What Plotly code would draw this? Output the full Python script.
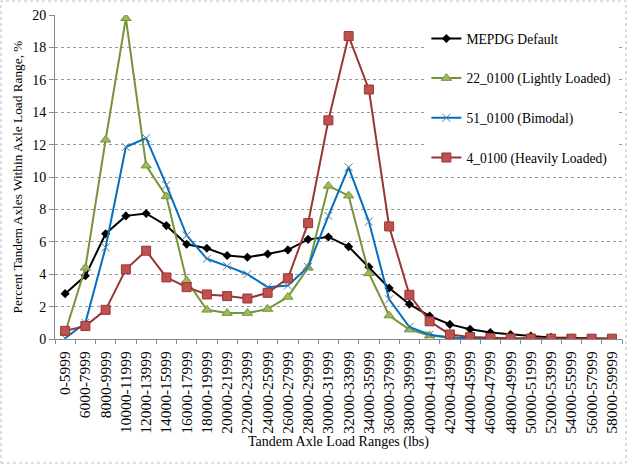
import plotly.graph_objects as go

categories = ["0-5999"] + [f"{a}-{a+1999}" for a in range(6000, 60000, 2000)]

mepdg = [2.8, 3.9, 6.5, 7.6, 7.75, 7.0, 5.85, 5.6, 5.15, 5.05, 5.25, 5.5, 6.15, 6.3,
         5.7, 4.45, 3.15, 2.15, 1.42, 0.9, 0.6, 0.4, 0.28, 0.18, 0.1, 0.06, 0.03, 0.02]
light = [0.4, 4.4, 12.3, 19.8, 10.7, 8.8, 3.6, 1.8, 1.6, 1.6, 1.85, 2.6, 4.4, 9.45,
         8.85, 4.05, 1.45, 0.58, 0.22, 0.1, 0.05, 0.03, 0.02, 0.01, 0.01, 0.0, 0.0, 0.0]
bimodal = [0.05, 1.0, 5.65, 11.85, 12.4, 9.5, 6.4, 4.95, 4.5, 4.0, 3.2, 3.3, 4.45, 7.6,
           10.6, 7.25, 2.45, 0.74, 0.26, 0.1, 0.05, 0.03, 0.02, 0.01, 0.01, 0.0, 0.0, 0.0]
heavy = [0.5, 0.8, 1.8, 4.3, 5.45, 3.8, 3.2, 2.75, 2.65, 2.5, 2.85, 3.75, 7.15, 13.5,
         18.7, 15.4, 6.95, 2.73, 1.09, 0.28, 0.12, 0.06, 0.04, 0.03, 0.02, 0.02, 0.02, 0.02]

fnt = "Liberation Serif"

fig = go.Figure()
fig.add_trace(go.Scatter(x=categories, y=mepdg, name="MEPDG Default", legendgroup="a",
                         mode="lines+markers", line=dict(color="black", width=2),
                         marker=dict(symbol="diamond", size=7, color="black")))
fig.add_trace(go.Scatter(x=categories, y=light, name="22_0100 (Lightly Loaded)", legendgroup="b",
                         mode="lines+markers", line=dict(color="#77933C", width=2),
                         marker=dict(symbol="triangle-up", size=9, color="#9BBB59",
                                     line=dict(color="#77933C", width=1))))
fig.add_trace(go.Scatter(x=categories, y=bimodal, name="51_0100 (Bimodal)", legendgroup="c",
                         mode="lines+markers", line=dict(color="#0070C0", width=2),
                         marker=dict(symbol="x-thin", size=8, color="#4F6F8F",
                                     line=dict(color="#5A7A9A", width=1))))
fig.add_trace(go.Scatter(x=categories, y=heavy, name="4_0100 (Heavily Loaded)", legendgroup="d",
                         mode="lines+markers", line=dict(color="#953735", width=2),
                         marker=dict(symbol="square", size=9, color="#C0504D",
                                     line=dict(color="#953735", width=1))))

fig.update_layout(
    width=627, height=464,
    margin=dict(l=55, r=5, t=15, b=125),
    paper_bgcolor="white", plot_bgcolor="white",
    font=dict(family=fnt, size=14, color="black"),
    showlegend=True,
    legend=dict(x=0.655, y=0.975, xanchor="left", yanchor="top",
                bgcolor="white", font=dict(family=fnt, size=13.6),
                tracegroupgap=19, itemwidth=30),
    xaxis=dict(type="category", tickangle=-90, tickfont=dict(size=15.5, family=fnt),
               showgrid=False, showline=True, linecolor="#888888", linewidth=1,
               ticks="outside", ticklen=4, tickcolor="#888888", tickson="boundaries",
               ticklabelstandoff=5,
               range=[-0.5, 27.5],
               title=dict(text="Tandem Axle Load Ranges (lbs)", font=dict(size=14, family=fnt), standoff=2)),
    yaxis=dict(range=[0, 20], tickvals=list(range(0, 21, 2)), tickfont=dict(size=14, family=fnt),
               showgrid=True, gridcolor="#999999", griddash="dot", gridwidth=1,
               showline=True, linecolor="#888888", linewidth=1,
               ticks="outside", ticklen=5, tickcolor="#888888", zeroline=False,
               title=dict(text="Percent Tandem Axles Within Axle Load Range, %",
                          font=dict(size=13.3, family=fnt), standoff=6)),
)

fig.add_shape(type="rect", xref="paper", yref="paper",
              x0=(1 - 55) / 567, x1=(626 - 55) / 567,
              y0=(339 - 463) / 324, y1=(339 - 1) / 324,
              line=dict(color="#BBBBBB", width=1, dash="dot"), layer="below")

fig.write_html("out.html", config={"displayModeBar": False},
               post_script="document.body.style.margin='0';")
